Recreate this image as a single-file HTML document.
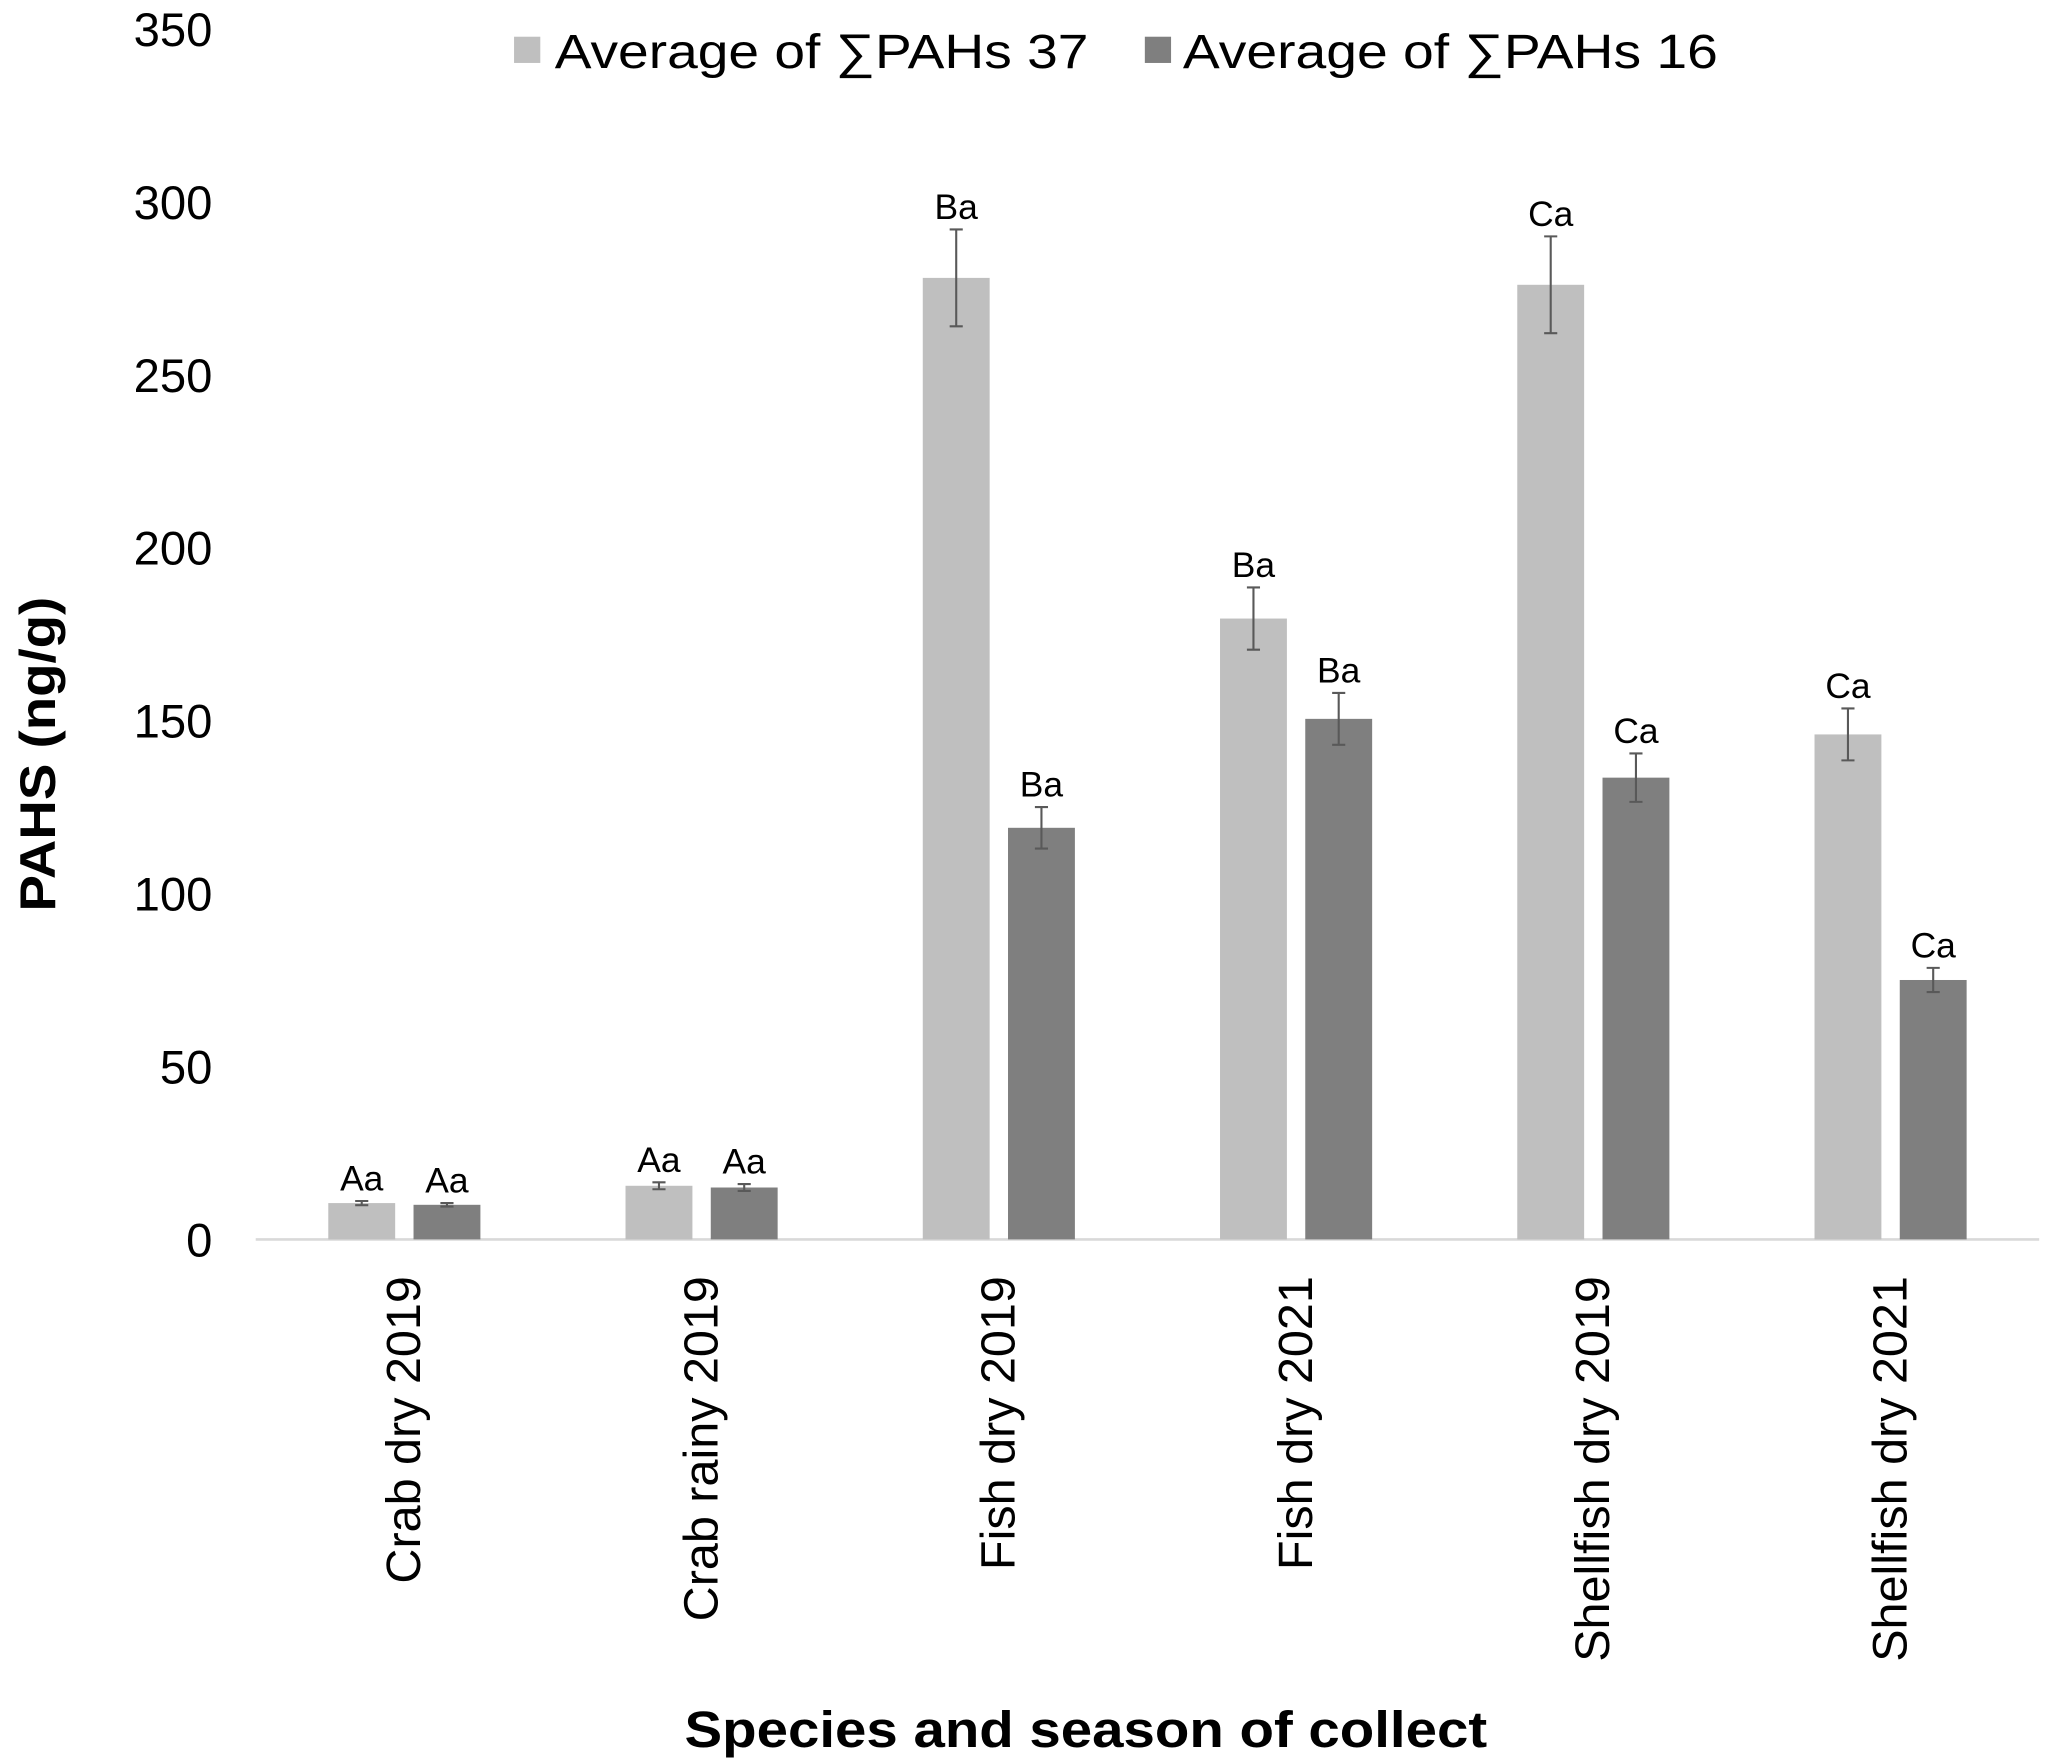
<!DOCTYPE html>
<html><head><meta charset="utf-8"><style>html,body{margin:0;padding:0;background:#fff}svg{display:block}</style></head>
<body>
<svg id="chart" width="2051" height="1764" viewBox="0 0 1564 1345" preserveAspectRatio="none" xmlns="http://www.w3.org/2000/svg" font-family="'Liberation Sans', Arial, sans-serif">
<g>
<rect x="392" y="28" width="20" height="20" fill="#bfbfbf"/>
<text x="423" y="52" font-size="37" textLength="407" lengthAdjust="spacingAndGlyphs">Average of ∑PAHs 37</text>
<rect x="873" y="28" width="20" height="20" fill="#7f7f7f"/>
<text x="902" y="52" font-size="37" textLength="408" lengthAdjust="spacingAndGlyphs">Average of ∑PAHs 16</text>
</g>
<text transform="translate(42,575) rotate(-90)" text-anchor="middle" font-size="38" font-weight="bold" textLength="240" lengthAdjust="spacingAndGlyphs">PAHS (ng/g)</text>
<text x="828" y="1332" text-anchor="middle" font-size="39" font-weight="bold" textLength="612" lengthAdjust="spacingAndGlyphs">Species and season of  collect</text>
<g id="plot"></g>
</svg>
<script>
const categories = ["Crab dry 2019","Crab rainy 2019","Fish dry 2019","Fish dry 2021","Shellfish dry 2019","Shellfish dry 2021"];
const pahs37 = [10.5, 15.5, 278, 179.5, 276, 146];
const pahs16 = [10, 15, 119, 150.5, 133.5, 75];
const err37 = [0.6, 1, 14, 9, 14, 7.5];
const err16 = [0.5, 1, 6, 7.5, 7, 3.5];
const labels37 = ["Aa","Aa","Ba","Ba","Ca","Ca"];
const labels16 = ["Aa","Aa","Ba","Ba","Ca","Ca"];
const yTicks = [0,50,100,150,200,250,300,350];

const NS="http://www.w3.org/2000/svg";
const plot=document.getElementById('plot');
const x0=195,x1=1555,yBase=945,yTop=22,yMax=350;
const y=v=>yBase-(v/yMax)*(yBase-yTop);
const gw=(x1-x0)/categories.length;
const gc=i=>x0+gw*(i+0.5);
const bw=51,gap=14;
function mk(tag,attrs){const e=document.createElementNS(NS,tag);for(const k in attrs)e.setAttribute(k,attrs[k]);plot.appendChild(e);return e;}

yTicks.forEach(t=>{
  const e=mk('text',{x:162,y:y(t)+13,'text-anchor':'end','font-size':'36'});
  e.textContent=t;
  
  
});
const ax=mk('line',{x1:x0,x2:x1,y1:yBase,y2:yBase,stroke:'#d9d9d9','stroke-width':2});



function series(vals,errs,labs,off,color,nm){
  vals.forEach((v,i)=>{
    const cx=gc(i)+off;
    const r=mk('rect',{x:cx-bw/2,y:y(v),width:bw,height:yBase-y(v),fill:color});
    
    
    const hi=y(v+errs[i]),lo=y(v-errs[i]);
    const el=mk('path',{d:`M${cx},${hi}V${lo}M${cx-5},${hi}H${cx+5}M${cx-5},${lo}H${cx+5}`,stroke:'#595959','stroke-width':1.6,fill:'none'});
    
    
    const t=mk('text',{x:cx,y:hi-8,'text-anchor':'middle','font-size':'27'});
    t.textContent=labs[i];
    
    
  });
}
series(pahs37,err37,labels37,-(bw+gap)/2,'#bfbfbf','pahs37');
series(pahs16,err16,labels16,(bw+gap)/2,'#7f7f7f','pahs16');

categories.forEach((c,i)=>{
  const t=mk('text',{transform:`translate(${gc(i)+12},973) rotate(-90)`,'text-anchor':'end','font-size':'37'});
  t.textContent=c;
  
  
});
</script>
</body></html>
